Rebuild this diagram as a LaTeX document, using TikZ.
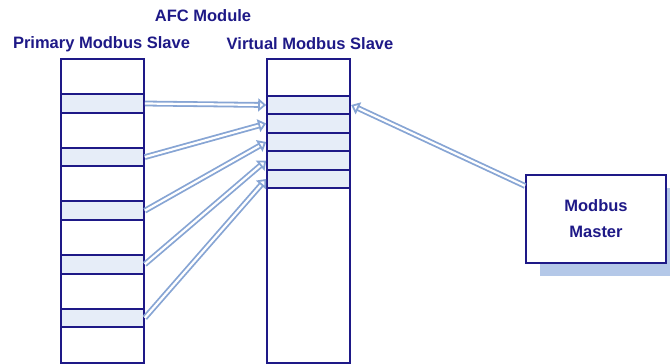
\documentclass[tikz,border=0pt]{standalone}
\usepackage{fontspec}
\setmainfont{Liberation Sans}
\usetikzlibrary{positioning,arrows.meta,shadows}
\definecolor{navy}{RGB}{30,25,135}
\definecolor{rowfill}{RGB}{230,237,248}
\definecolor{linkblue}{RGB}{135,165,212}
\definecolor{shadowblue}{RGB}{180,200,232}
\tikzset{
  regcol/.style={draw=navy,line width=2pt,minimum width=83pt,inner sep=0pt},
  regrow/.style={regcol,fill=rowfill,minimum height=18.5pt},
  maplink/.style={draw=linkblue,double=white,line width=1.8pt,double distance=2.2pt,
                  -{Triangle[open,length=8pt,width=13pt]}},
  lbl/.style={text=navy,font=\bfseries\fontsize{16.5}{26}\selectfont,inner sep=0pt}
}

\begin{document}
\begin{tikzpicture}[x=1pt,y=-1pt]
  \useasboundingbox (0,0) rectangle (670,364);
  % --- headings ---
  \node[lbl] (afc) at (203,16) {AFC Module};
  \node[lbl] (plbl) at (101.5,44) {Primary Modbus Slave};
  \node[lbl] (vlbl) at (310,44) {Virtual Modbus Slave};
  % --- the two register columns ---
  \node[regcol,minimum height=304pt] (prim) at (102.3,211) {};
  \node[regcol,minimum height=304pt] (virt) at (308.7,211) {};
  \foreach \i in {1,...,5} {
    \node[regrow] (p\i) at (102.3,{103.5+53.6*(\i-1)}) {};
    \node[regrow] (v\i) at (308.7,{105+18.5*(\i-1)}) {};
  }
  % --- the master, with its shadow ---
  \node[lbl,draw=navy,line width=2pt,fill=white,align=center,
        minimum width=140pt,minimum height=88pt,
        drop shadow={shadow xshift=14pt,shadow yshift=-13pt,fill=shadowblue,draw=none,opacity=1}]
        (master) at (596,219) {Modbus\\Master};
  % --- register mapping ---
  \foreach \i in {1,...,5}
    \draw[maplink] (p\i.east) -- (v\i.west);
  \draw[maplink] (master.155) -- (v1.east);
\end{tikzpicture}
\end{document}
